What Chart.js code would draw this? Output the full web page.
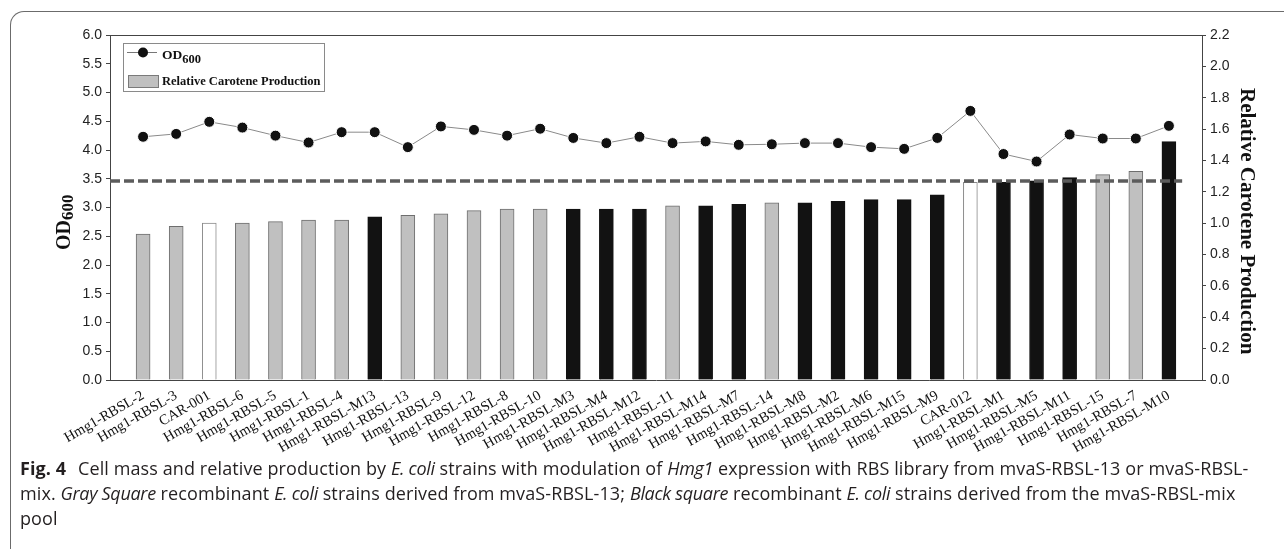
<!DOCTYPE html>
<html>
<head>
<meta charset="utf-8">
<script src="https://cdn.jsdelivr.net/npm/chart.js@4.4.1/dist/chart.umd.min.js"></script>
<style>
    html, body { margin: 0; padding: 0; background: #fff; overflow: hidden; }
    #wrap { position: relative; width: 1284px; height: 550px; }
    #frame {
        position: absolute; left: 10px; top: 11px; width: 1320px; height: 537px;
        border-top: 1.5px solid #6b6b6b; border-left: 1.5px solid #6b6b6b;
        border-top-left-radius: 14px;
    }
    #chart { position: absolute; left: 0; top: 0; }
    #caption {
        position: absolute; left: 20px; top: 456px;
        font-family: "Open Sans", sans-serif; font-size: 18px; line-height: 25px;
        letter-spacing: 0.1px; color: #231f20; white-space: nowrap;
    }
    #caption b { font-weight: 700; margin-right: 7px; }
    #caption i { letter-spacing: -0.3px; }
</style>
</head>
<body>
<div id="wrap">
    <div id="frame"></div>
    <canvas id="chart" width="1284" height="460"></canvas>
    <div id="caption">
        <b>Fig. 4</b> Cell mass and relative production by <i>E. coli</i> strains with modulation of <i>Hmg1</i> expression with RBS library from mvaS-RBSL-13 or mvaS-RBSL-<br>
        mix. <i>Gray Square</i> recombinant <i>E. coli</i> strains derived from mvaS-RBSL-13; <i>Black square</i> recombinant <i>E. coli</i> strains derived from the mvaS-RBSL-mix<br>
        pool
    </div>
</div>
<script>
const strainNames = [
    'Hmg1-RBSL-2', 'Hmg1-RBSL-3', 'CAR-001', 'Hmg1-RBSL-6', 'Hmg1-RBSL-5', 'Hmg1-RBSL-1',
    'Hmg1-RBSL-4', 'Hmg1-RBSL-M13', 'Hmg1-RBSL-13', 'Hmg1-RBSL-9', 'Hmg1-RBSL-12', 'Hmg1-RBSL-8',
    'Hmg1-RBSL-10', 'Hmg1-RBSL-M3', 'Hmg1-RBSL-M4', 'Hmg1-RBSL-M12', 'Hmg1-RBSL-11', 'Hmg1-RBSL-M14',
    'Hmg1-RBSL-M7', 'Hmg1-RBSL-14', 'Hmg1-RBSL-M8', 'Hmg1-RBSL-M2', 'Hmg1-RBSL-M6', 'Hmg1-RBSL-M15',
    'Hmg1-RBSL-M9', 'CAR-012', 'Hmg1-RBSL-M1', 'Hmg1-RBSL-M5', 'Hmg1-RBSL-M11', 'Hmg1-RBSL-15',
    'Hmg1-RBSL-7', 'Hmg1-RBSL-M10'
];

// relative carotene production (right axis)
const caroteneValues = [
    0.93, 0.98, 1.00, 1.00, 1.01, 1.02, 1.02, 1.04, 1.05, 1.06, 1.08, 1.09, 1.09, 1.09, 1.09, 1.09,
    1.11, 1.11, 1.12, 1.13, 1.13, 1.14, 1.15, 1.15, 1.18, 1.26, 1.26, 1.27, 1.29, 1.31, 1.33, 1.52
];

// OD600 (left axis)
const odValues = [
    4.23, 4.28, 4.49, 4.39, 4.25, 4.13, 4.31, 4.31, 4.05, 4.41, 4.35, 4.25, 4.37, 4.21, 4.12, 4.23,
    4.12, 4.15, 4.09, 4.10, 4.12, 4.12, 4.05, 4.02, 4.21, 4.68, 3.93, 3.80, 4.27, 4.20, 4.20, 4.42
];

const referenceOD = 3.46;
const referenceEnd = 31.4;

const odTicks = { min: 0, max: 6, step: 0.5 };
const caroteneTicks = { min: 0, max: 2.2, step: 0.2 };

// gray = from mvaS-RBSL-13, black = from mvaS-RBSL-mix, white = controls
function groupOf(name) {
    if (name.startsWith('CAR')) return 'control';
    if (name.includes('-M')) return 'mix';
    return 'rbsl13';
}
const fills = { control: '#ffffff', mix: '#121212', rbsl13: '#c0c0c0' };
const borders = { control: '#8a8a8a', mix: '#121212', rbsl13: '#6e6e6e' };

const groups = strainNames.map(groupOf);

const sansFont = "'Liberation Sans', Arial, sans-serif";
const serifFont = "'Liberation Serif', 'Times New Roman', serif";

const decorPlugin = {
    id: 'decor',
    afterDraw(chart) {
        const ctx = chart.ctx;
        const a = chart.chartArea;
        ctx.save();

        // plot box top line
        ctx.strokeStyle = '#444';
        ctx.lineWidth = 1;
        ctx.beginPath();
        ctx.moveTo(a.left, a.top + 0.5);
        ctx.lineTo(a.right, a.top + 0.5);
        ctx.stroke();

        ctx.fillStyle = '#111';
        ctx.textBaseline = 'alphabetic';

        // left title OD600
        ctx.save();
        ctx.translate(70, 250);
        ctx.rotate(-Math.PI / 2);
        ctx.font = 'bold 20px ' + serifFont;
        ctx.fillText('OD', 0, 0);
        const odW = ctx.measureText('OD').width;
        ctx.font = 'bold 17px ' + serifFont;
        ctx.fillText('600', odW, 3);
        ctx.restore();

        // right title
        ctx.save();
        ctx.translate(1241, 88);
        ctx.rotate(Math.PI / 2);
        ctx.font = 'bold 21px ' + serifFont;
        ctx.fillText('Relative Carotene Production', 0, 0);
        ctx.restore();

        // legend box
        const lx = a.left + 13, ly = a.top + 8;
        ctx.fillStyle = '#fff';
        ctx.fillRect(lx, ly, 201, 48);
        ctx.strokeStyle = '#8a8a8a';
        ctx.strokeRect(lx + 0.5, ly + 0.5, 201, 48);

        ctx.strokeStyle = '#777';
        ctx.beginPath();
        ctx.moveTo(lx + 4, ly + 9.5);
        ctx.lineTo(lx + 34, ly + 9.5);
        ctx.stroke();
        ctx.fillStyle = '#111';
        ctx.beginPath();
        ctx.arc(lx + 20, ly + 9.5, 5, 0, Math.PI * 2);
        ctx.fill();

        ctx.font = 'bold 13.5px ' + serifFont;
        ctx.fillText('OD', lx + 39, ly + 16);
        const w = ctx.measureText('OD').width;
        ctx.font = 'bold 12.5px ' + serifFont;
        ctx.fillText('600', lx + 39 + w, ly + 20);

        ctx.fillStyle = '#c0c0c0';
        ctx.fillRect(lx + 5, ly + 32, 30, 12);
        ctx.strokeStyle = '#7a7a7a';
        ctx.strokeRect(lx + 5.5, ly + 32.5, 30, 12);
        ctx.fillStyle = '#111';
        ctx.font = 'bold 12.5px ' + serifFont;
        ctx.fillText('Relative Carotene Production', lx + 39, ly + 42);

        ctx.restore();
    }
};

new Chart(document.getElementById('chart'), {
    type: 'bar',
    data: {
        datasets: [
            {
                type: 'line',
                label: 'reference',
                data: [{ x: -1, y: referenceOD }, { x: referenceEnd, y: referenceOD }],
                yAxisID: 'y',
                borderColor: '#5c5c5c',
                borderWidth: 3.5,
                borderDash: [10, 4],
                pointRadius: 0,
                order: 0
            },
            {
                type: 'line',
                label: 'OD600',
                data: odValues.map((v, i) => ({ x: i, y: v })),
                yAxisID: 'y',
                borderColor: '#8a8a8a',
                borderWidth: 1,
                pointRadius: 5.5,
                pointBackgroundColor: '#111',
                pointBorderColor: '#fff',
                pointBorderWidth: 1,
                order: 1
            },
            {
                type: 'bar',
                label: 'Relative Carotene Production',
                data: caroteneValues.map((v, i) => ({ x: i, y: v })),
                yAxisID: 'y2',
                backgroundColor: groups.map(g => fills[g]),
                borderColor: groups.map(g => borders[g]),
                borderWidth: 1,
                barThickness: 14,
                order: 2
            }
        ]
    },
    options: {
        responsive: false,
        animation: false,
        layout: { padding: { top: 35, left: 0, right: 0, bottom: 0 } },
        plugins: {
            legend: { display: false },
            tooltip: { enabled: false }
        },
        scales: {
            x: {
                type: 'linear',
                min: -1,
                max: strainNames.length,
                offset: false,
                afterFit: s => { s.height = 80; },
                grid: { display: false, drawTicks: false },
                border: { display: true, color: '#444', width: 1 },
                ticks: {
                    stepSize: 1,
                    autoSkip: false,
                    maxTicksLimit: 60,
                    minRotation: 30,
                    maxRotation: 30,
                    padding: 7,
                    color: '#111',
                    font: { family: serifFont, size: 14.5 },
                    callback: v => strainNames[v] ?? ''
                }
            },
            y: {
                position: 'left',
                min: odTicks.min,
                max: odTicks.max,
                afterFit: s => { s.width = 110; },
                grid: { drawOnChartArea: false, tickLength: 4, color: '#444' },
                border: { color: '#444', width: 1 },
                ticks: {
                    stepSize: odTicks.step,
                    padding: 4,
                    color: '#222',
                    font: { family: sansFont, size: 14 },
                    callback: v => v.toFixed(1)
                }
            },
            y2: {
                position: 'right',
                min: caroteneTicks.min,
                max: caroteneTicks.max,
                afterFit: s => { s.width = 82; },
                grid: { drawOnChartArea: false, tickLength: 4, color: '#444' },
                border: { color: '#444', width: 1 },
                ticks: {
                    stepSize: caroteneTicks.step,
                    padding: 4,
                    color: '#222',
                    font: { family: sansFont, size: 14 },
                    callback: v => v.toFixed(1)
                }
            }
        }
    },
    plugins: [decorPlugin]
});
</script>
</body>
</html>
